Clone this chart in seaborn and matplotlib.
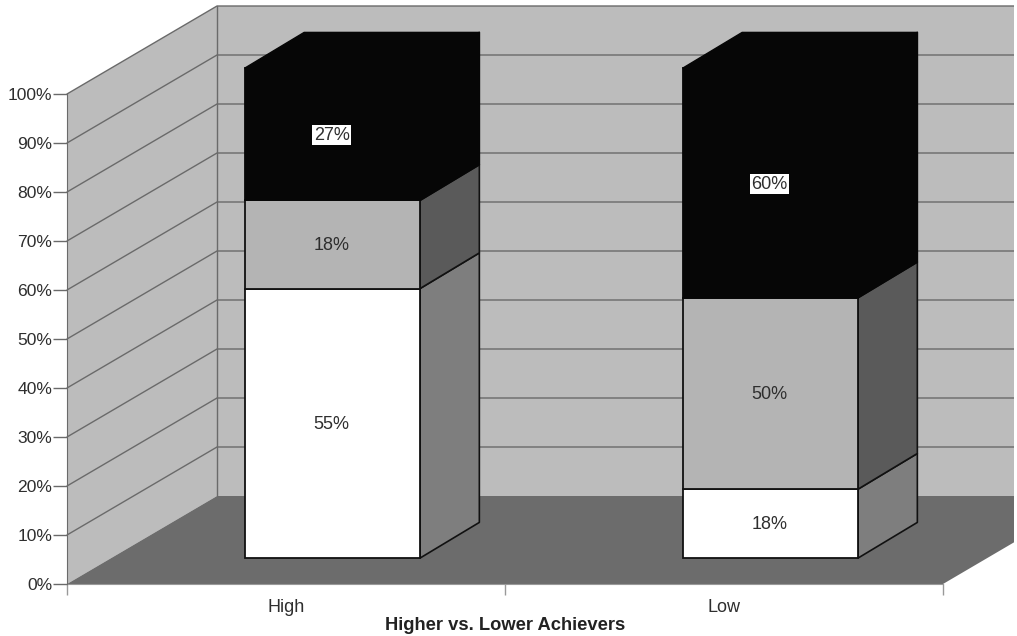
import numpy as np
import pandas as pd
import matplotlib
matplotlib.use('Agg')
import matplotlib.pyplot as plt
import seaborn as sns
from matplotlib.patches import Polygon
from matplotlib.transforms import Affine2D, Bbox, IdentityTransform

# Data (labels on the bars are as printed, bars are stacked to 100%)
groups = ['High', 'Low']
segments = ['bottom', 'middle', 'top']
bottom_vals = [55, 18]
middle_vals = [18, 50]
top_vals = [27, 60]
y_ticks = [0, 10, 20, 30, 40, 50, 60, 70, 80, 90, 100]

df = pd.DataFrame({
    'group': groups * 3,
    'segment': np.repeat(segments, 2),
    'value': bottom_vals + middle_vals + top_vals,
})
df['share'] = df['value'] / df.groupby('group')['value'].transform('sum') * 100

# Style
sns.set_style('white')
plt.rcParams['font.family'] = ['Liberation Sans', 'DejaVu Sans']
TEXT = '#2e2e2e'
LINE = '#6a6a6a'
WALL = '#bcbcbc'
FLOOR = '#6c6c6c'
front_colors = {'bottom': '#ffffff', 'middle': '#b4b4b4', 'top': '#060606'}
side_colors = {'bottom': '#7e7e7e', 'middle': '#5a5a5a', 'top': '#060606'}
edge_colors = {'bottom': '#111111', 'middle': '#111111', 'top': '#060606'}

W, H = 1017, 636
DEPTH = np.array([150.0, 88.0])   # 3d depth of the chart box, in pixels
BAR_FRONT = np.array([0.31, 0.295])
BAR_BACK = BAR_FRONT + np.array([0.395, 0.405])
clip = Bbox([[0, 0], [1014, H]])

fig = plt.figure(figsize=(W / 100, H / 100), dpi=100)
ax = fig.add_axes([67 / W, (H - 584) / H, 876 / W, 490 / H])
ax.patch.set_alpha(0)

# Front faces of the stacked bars
base = np.zeros(2)
for seg in segments:
    part = df[df['segment'] == seg]
    sns.barplot(data=part, x='group', y='share', order=groups, bottom=base, width=0.4,
                color=front_colors[seg], saturation=1, edgecolor=edge_colors[seg], linewidth=1.3,
                ax=ax, zorder=5)
    base = base + part['share'].values
bars = list(ax.patches)

ax.set_xlim(-0.5, 1.5)
ax.set_ylim(0, 100)
fig.canvas.draw()


def project(x, y, d=0.0):
    return ax.transData.transform((x, y)) + d * DEPTH


def face(points, color, z, edge='none', lw=1.0):
    poly = Polygon([project(*p) for p in points], closed=True, facecolor=color, edgecolor=edge,
                   linewidth=lw, transform=IdentityTransform(), zorder=z, joinstyle='round')
    ax.add_patch(poly)
    poly.set_clip_box(clip)
    return poly


def wall_line(points, z=2):
    xy = np.array([project(*p) for p in points])
    line = ax.plot(xy[:, 0], xy[:, 1], color=LINE, lw=1.0, transform=IdentityTransform(), zorder=z)[0]
    line.set_clip_box(clip)


# Walls and floor
xa, xb = ax.get_xlim()
face([(xa, 0, 0), (xa, 0, 1), (xa, 100, 1), (xa, 100, 0)], WALL, 1)
face([(xa, 0, 1), (xb, 0, 1), (xb, 100, 1), (xa, 100, 1)], WALL, 1)
face([(xa, 0, 0), (xb, 0, 0), (xb, 0, 1), (xa, 0, 1)], FLOOR, 1.5)
for t in y_ticks:
    if t > 0:
        wall_line([(xa, t, 0), (xa, t, 1), (xb, t, 1)])
wall_line([(xa, 0, 1), (xa, 100, 1)])

# Sides, tops and labels of the bars
shift = Affine2D().translate(*(BAR_FRONT * DEPTH))
i = 0
for seg in segments:
    for g in groups:
        bar = bars[i]
        i += 1
        x0, x1 = bar.get_x(), bar.get_x() + bar.get_width()
        y0, y1 = bar.get_y(), bar.get_y() + bar.get_height()
        bar.set_transform(ax.transData + shift)
        bar.set_clip_on(False)
        face([(x1, y0, BAR_FRONT), (x1, y0, BAR_BACK), (x1, y1, BAR_BACK), (x1, y1, BAR_FRONT)],
             side_colors[seg], 4, edge=edge_colors[seg], lw=1.2)
        if seg == 'top':
            face([(x0, y1, BAR_FRONT), (x0, y1, BAR_BACK), (x1, y1, BAR_BACK), (x1, y1, BAR_FRONT)],
                 front_colors[seg], 4, edge=edge_colors[seg], lw=1.0)
        value = df[(df['segment'] == seg) & (df['group'] == g)]['value'].iloc[0]
        box = dict(facecolor='white', edgecolor='none', pad=1.0) if seg == 'top' else None
        ax.text((x0 + x1) / 2 - 0.002, (y0 + y1) / 2 - 0.25, f'{value}%', transform=ax.transData + shift,
                ha='center', va='center', fontsize=13, color=TEXT, zorder=6, bbox=box)

# Axes
sns.despine(ax=ax, top=True, right=True)
ax.spines['left'].set_color(LINE)
ax.spines['bottom'].set_color('#999999')
ax.spines['left'].set_zorder(3)
ax.set_yticks(y_ticks)
ax.set_yticklabels([f'{t}%' for t in y_ticks], fontsize=12.6, color=TEXT)
ax.set_xticks([-0.5, 0.5, 1.5])
ax.set_xticklabels(['', '', ''])
ax.set_xticks([0, 1], labels=groups, minor=True, fontsize=13, color=TEXT)
ax.tick_params(axis='y', left=True, length=10, width=1, color=LINE, pad=0.5)
ax.tick_params(axis='x', which='major', bottom=True, length=8, width=1, color='#999999')
ax.tick_params(axis='x', which='minor', bottom=False, length=0, pad=11)
ax.set_ylabel('')
ax.set_xlabel('Higher vs. Lower Achievers', fontsize=13.2, fontweight='bold', color='#222222', va='center')
ax.xaxis.set_label_coords(0.5, -42 / 490, transform=ax.transAxes)

fig.savefig('out.png', dpi=100)
